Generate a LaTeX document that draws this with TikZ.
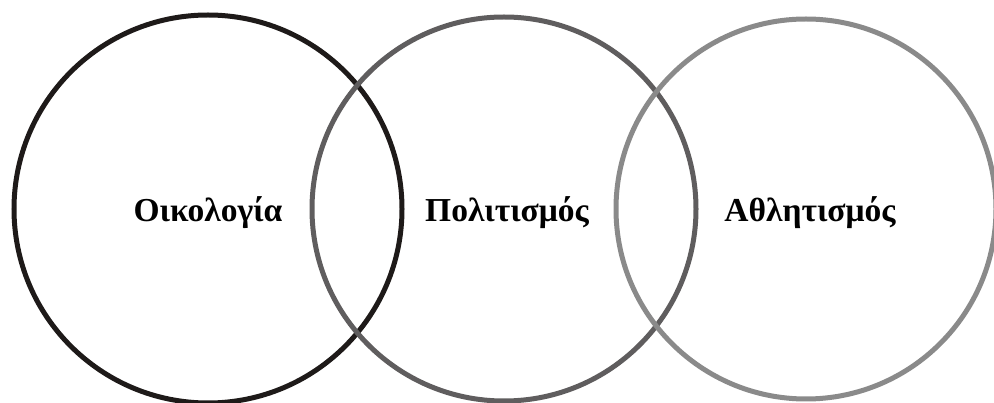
\documentclass[tikz,border=0pt]{standalone}
\usepackage{fontspec}
\setmainfont{Liberation Serif}
\definecolor{cone}{HTML}{1E1A19}
\definecolor{ctwo}{HTML}{5F5D5E}
\definecolor{cthree}{HTML}{8A8A8A}
\tikzset{ring/.style={line width=5pt},
  lbl/.style={font=\fontsize{33.5}{40}\selectfont\bfseries, inner sep=0pt}}
\begin{document}
\begin{tikzpicture}[x=1pt,y=-1pt]
\useasboundingbox (0,0) rectangle (994,403);
\draw[ring, cone] (208,209) circle (194);
\draw[ring, ctwo] (504,209) circle (192);
\draw[ring, cthree] (806,209) circle (190);
\node[lbl] (eco) at (208,213) {Οικολογία};
\node[lbl] (pol) at (507,213) {Πολιτισμός};
\node[lbl] (ath) at (810,213) {Αθλητισμός};
\end{tikzpicture}
\end{document}
